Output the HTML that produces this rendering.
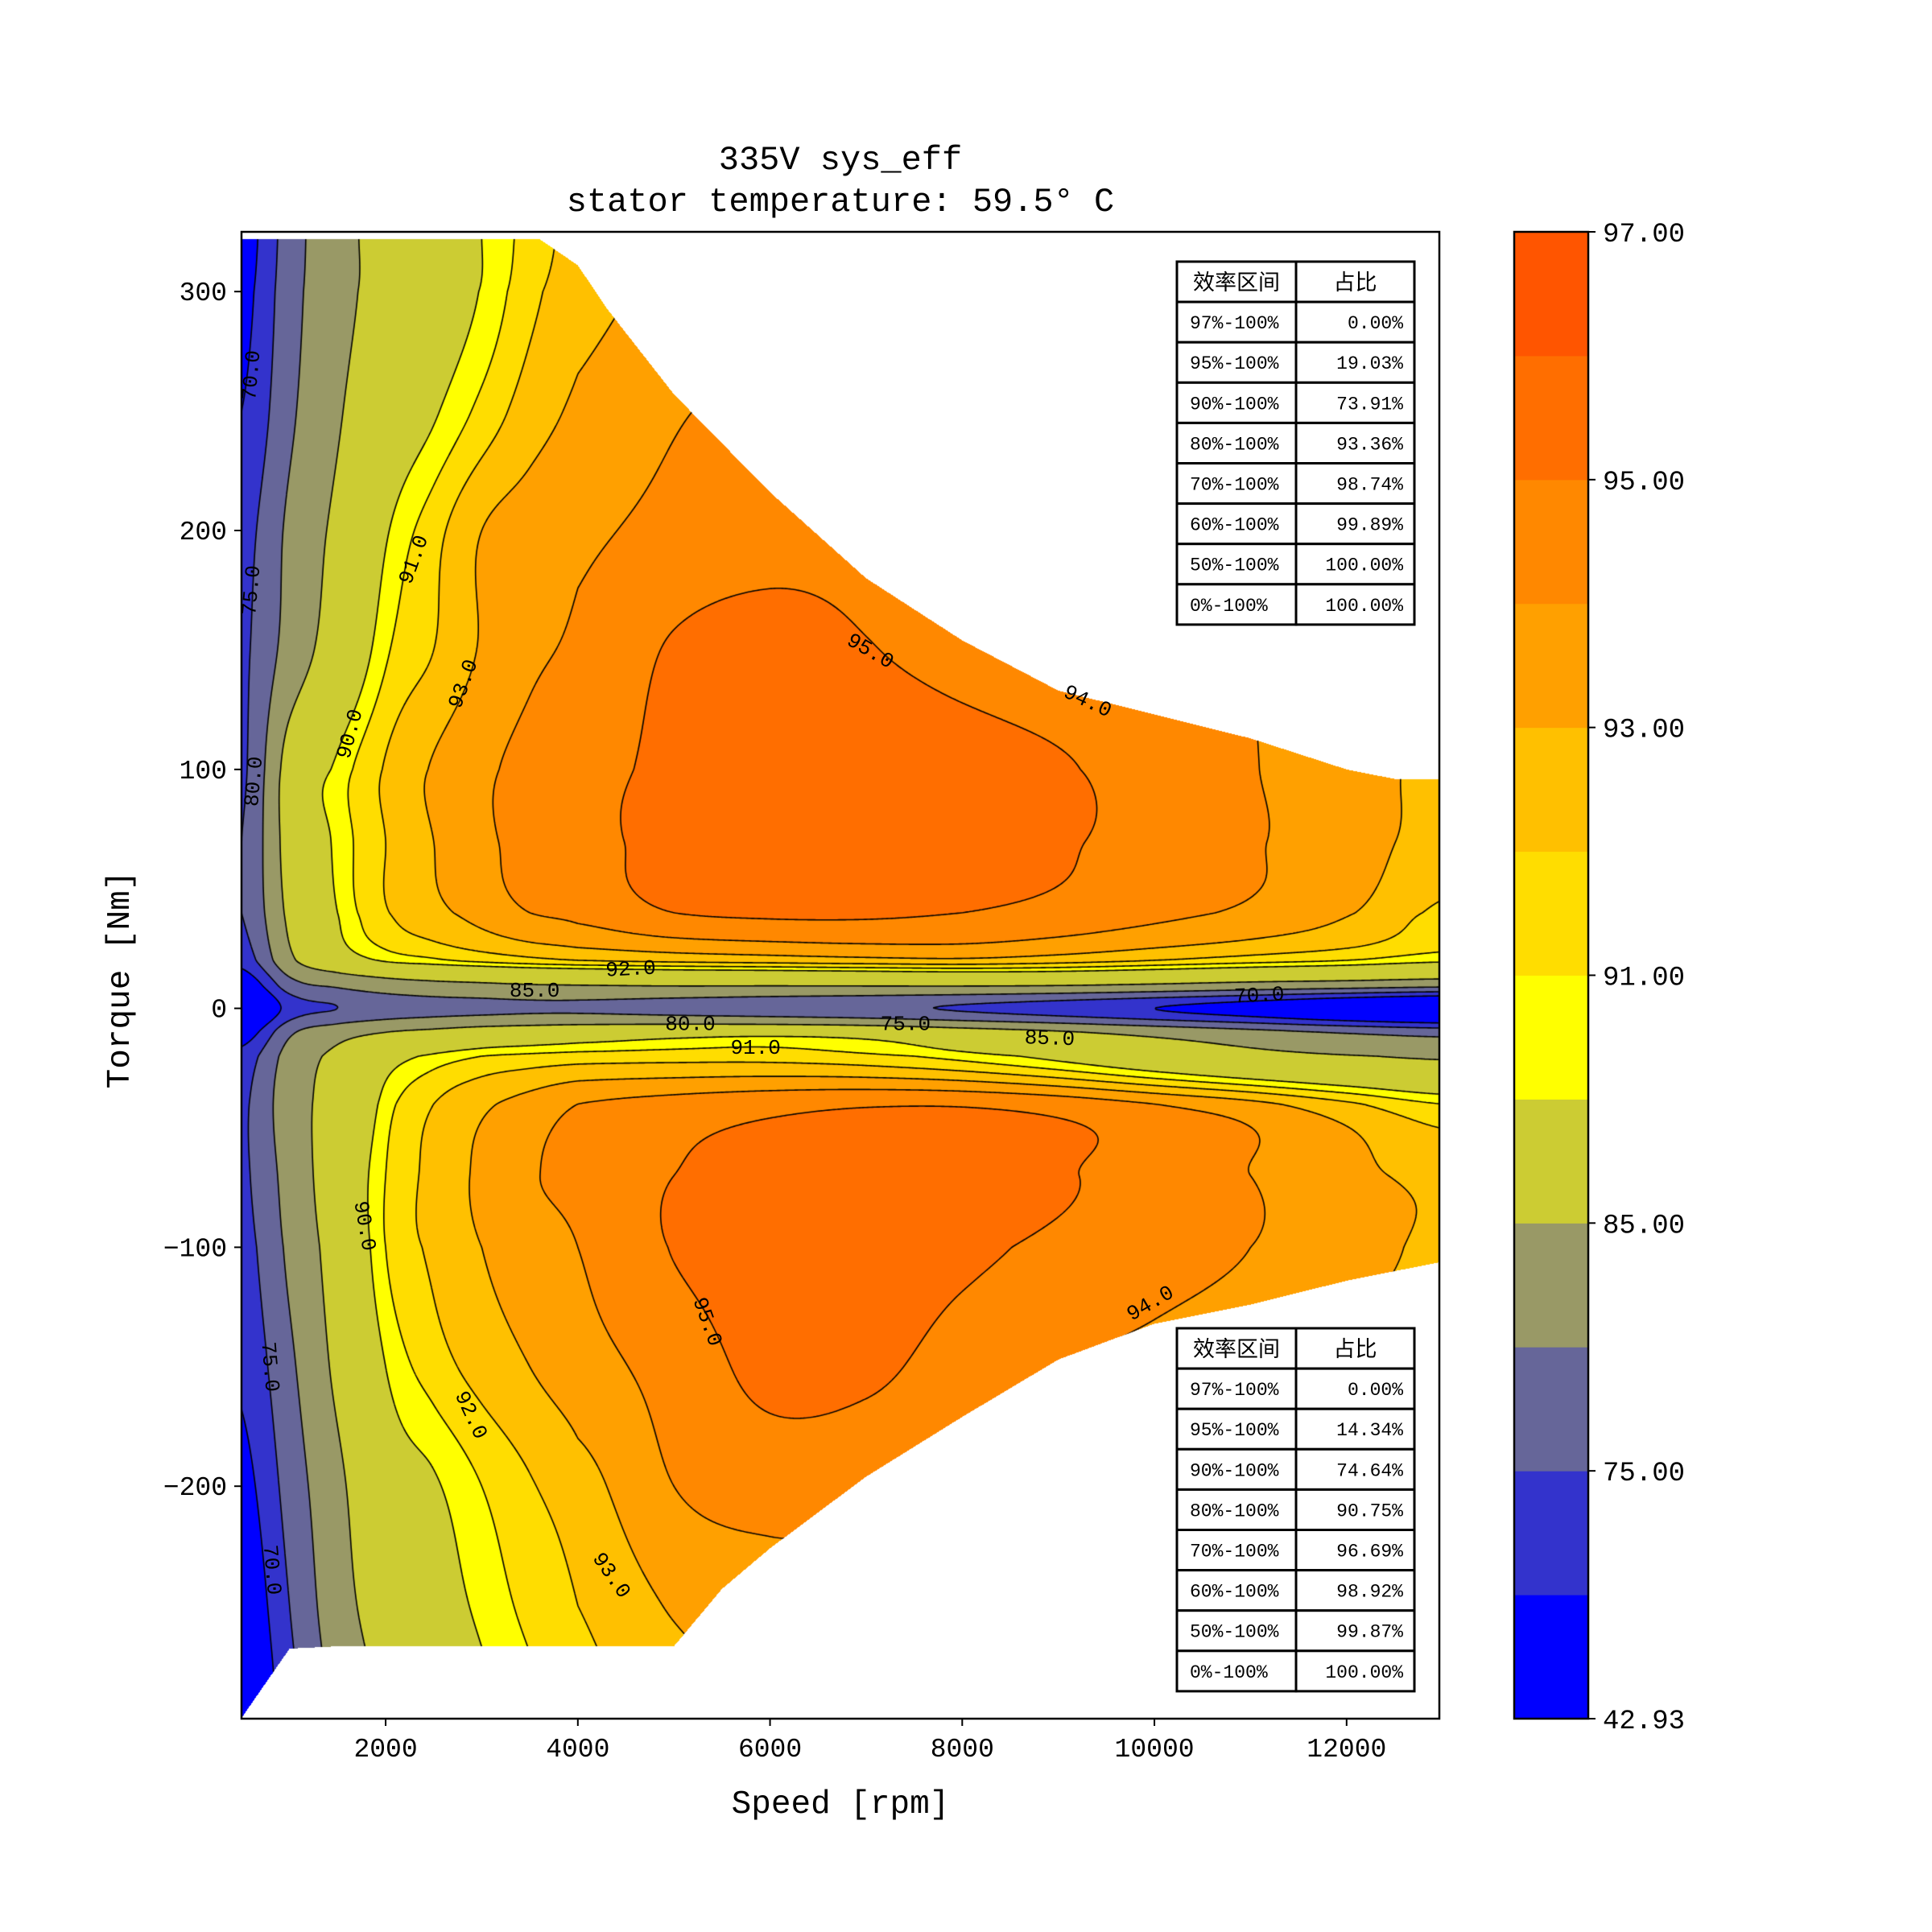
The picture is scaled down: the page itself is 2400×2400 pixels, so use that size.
<!DOCTYPE html>
<html><head><meta charset="utf-8">
<style>
html,body{margin:0;padding:0;background:#fff;}
#root{position:relative;width:2400px;height:2400px;background:#fff;overflow:hidden;}
svg text{font-family:"Liberation Mono","Noto Sans CJK SC",monospace;}
</style></head>
<body>
<div id="root">
<canvas id="plot" width="1488" height="1847" style="position:absolute;left:300px;top:288px;"></canvas>
<svg id="svg" width="2400" height="2400" style="position:absolute;left:0;top:0;" xmlns="http://www.w3.org/2000/svg">
<text x="1044" y="210" font-size="42" text-anchor="middle">335V sys_eff</text>
<text x="1044" y="262" font-size="42" text-anchor="middle">stator temperature: 59.5° C</text>
<text x="1044" y="2252" font-size="41" text-anchor="middle">Speed [rpm]</text>
<text transform="translate(160,1217) rotate(-90)" font-size="41" text-anchor="middle">Torque [Nm]</text>
<g id="ticks"></g>
<g id="clabels"></g>
<rect x="300" y="288" width="1488" height="1847" fill="none" stroke="#000" stroke-width="2.5"/>
<g id="cbar"></g>
<g id="tables"></g>
</svg>
</div>
<script>
// ---- data ----
const speeds=[500,1000,1500,2000,2500,3000,3500,4000,5000,6000,7000,8000,9000,10000,11000,12000,13000];
const torques=[325,300,250,200,150,100,70,40,20,10,0,-10,-20,-40,-70,-100,-150,-200,-250,-300];
const eff=[
[67,77.5,83.5,86.3,88.3,90,91.4,92.4,93,93.5,93.5,93.5,93.5,93.5,93.5,93,92.5],
[68,78,83.5,86.5,88.5,90.1,91.7,92.6,93.3,93.8,94,94,94,94,93.8,93.3,92.7],
[70,79,84.5,88,89.8,91.3,92.5,93.2,93.9,94.3,94.5,94.5,94.4,94.2,94,93.5,92.8],
[73,81,86,89.8,91.6,93,93.5,93.8,94.3,94.6,94.7,94.7,94.6,94.4,94,93.5,92.8],
[74,82,87.3,90.8,92,93.1,93.8,94.2,95.1,95.4,95.05,94.7,94.4,94.2,94,93.6,92.9],
[74,87,90.3,92.1,93.1,93.8,94.3,94.7,95.2,95.5,95.6,95.4,95.1,94.6,94.05,93.5,92.7],
[75,87,90.3,92,93,93.8,94.3,94.7,95.3,95.5,95.6,95.4,95.1,94.7,94.1,93.5,92.6],
[75,86,90,91.9,92.7,93.4,94,94.3,95,95.2,95.2,95,94.7,94.3,93.8,93.1,91.8],
[72,84,88.5,90.2,90.8,91.3,91.7,92,92.3,92.5,92.7,92.8,92.5,92,91.5,91,90.3],
[65,78,81,83,84,84.5,85,85.2,85.5,85.5,85.6,85.7,85.5,84.8,83.8,83,82],
[58,72,75,77,78,78.5,79,79,78,77,76,74.5,72.5,70,67,63,60],
[66,79,83,85,86,87,87.5,88,88.7,89,88.5,87,85.5,83.5,81.5,79.5,78],
[72,82,86,89,90.3,91,91.3,91.5,91.6,91.6,91.3,90.6,89.5,88,86.5,85.3,84.5],
[74,83,86.5,90.5,92,92.8,93.4,94,94.4,94.7,94.9,94.9,94.6,94,93.3,92.2,91],
[74,82,87.5,91,92.3,93.2,93.9,94.3,95,95.4,95.6,95.5,95.1,94.6,94,93.3,92.7],
[73,81,87,91,92.2,93,93.5,94,95.05,95.5,95.5,95.2,94.8,94.4,94,93.4,92.8],
[71,79,86,90,91.5,92.4,93,93.6,94.4,95.3,95.2,94.6,94.05,93.7,93.3,92.8,92.3],
[68,77,84,88.5,89.8,91,91.9,92.6,94,94.4,94.3,94,93.5,93,92.6,92.2,91.8],
[65,75,83,87,89,90.3,91.3,92,93.1,93.5,93.5,93.3,93,92.6,92.2,91.8,91.5],
[62,73,81,85.5,88,89.5,90.6,91.5,92.5,93,93,92.8,92.5,92.2,91.8,91.5,91]
];
const upperSpeed=[500,3600,4000,4300,5000,6000,7000,8000,9000,10000,11000,12000,12500,13000];
const upperTorque=[322,322,311,293,257,216,180,154,133,123,113,100,96,96];
const lowerSpeed=[500,1000,1500,5000,5500,6000,7000,8000,9000,10000,11000,12000,13000];
const lowerTorque=[-297,-268,-267,-267,-243,-226,-196,-171,-147,-132,-124,-114,-106];
const levels=[42.93,70,75,80,85,90,91,92,93,94,95,96,97];
const bandColors=["#0000ff","#3333cc","#666699","#999966","#cccc33","#ffff00","#ffdd00","#ffc000","#ffa000","#ff8800","#ff6e00","#ff5500"];
const lineLevels=[70,75,80,85,90,91,92,93,94,95,96];
const xTicks=[2000,4000,6000,8000,10000,12000];
const yTicks=[300,200,100,0,-100,-200];
const cbTicks=["42.93","75.00","85.00","91.00","93.00","95.00","97.00"];
const labelText=["70.0","75.0","80.0","90.0","91.0","93.0","95.0","94.0","92.0","85.0","80.0","75.0","70.0","91.0","85.0","90.0","95.0","94.0","75.0","92.0","93.0","70.0"];
const labelSpeed=[590,590,615,1615,2280,2795,7050,9310,4550,3550,5170,7410,11090,5850,8910,1795,5360,9950,810,2900,4360,830];
const labelTorque=[265,175,95,115,188,136,150,129,17,8,-6,-6,6,-16,-12,-91,-131,-123,-150,-170,-237,-235];
const labelAngle=[-85,-85,-85,-75,-70,-70,30,25,-3,0,0,0,-3,0,2,80,70,-30,85,65,55,85];
const tableRanges=["97%-100%","95%-100%","90%-100%","80%-100%","70%-100%","60%-100%","50%-100%","0%-100%"];
const tableTop=["0.00%","19.03%","73.91%","93.36%","98.74%","99.89%","100.00%","100.00%"];
const tableBottom=["0.00%","14.34%","74.64%","90.75%","96.69%","98.92%","99.87%","100.00%"];

// ---- axes ----
const PX=300,PY=288,PW=1488,PH=1847;
const xMin=500,xMax=12965,yMax=325,yMin=-297.3;
function sx(v){return PX+(v-xMin)/(xMax-xMin)*PW;}
function sy(v){return PY+(yMax-v)/(yMax-yMin)*PH;}
function lerpArr(xs,ys,x){
  if(x<=xs[0])return ys[0];
  for(let i=0;i<xs.length-1;i++){if(x<=xs[i+1]){const t=(x-xs[i])/(xs[i+1]-xs[i]);return ys[i]+t*(ys[i+1]-ys[i]);}}
  return ys[ys.length-1];
}
function fracIndex(arr,v,desc){
  const n=arr.length;
  for(let i=0;i<n-1;i++){
    const a=arr[i],b=arr[i+1];
    const inside=desc?(v<=a&&v>=b):(v>=a&&v<=b);
    if(inside)return i+(v-a)/(b-a);
  }
  if(desc)return v>arr[0]?0:n-1;
  return v<arr[0]?0:n-1;
}
function cr(p0,p1,p2,p3,t){
  return 0.5*((2*p1)+(-p0+p2)*t+(2*p0-5*p1+4*p2-p3)*t*t+(-p0+3*p1-3*p2+p3)*t*t*t);
}
function effAt(s,t){
  const fi=fracIndex(speeds,s,false),fj=fracIndex(torques,t,true);
  const nI=speeds.length,nJ=torques.length;
  let i=Math.min(Math.floor(fi),nI-2),j=Math.min(Math.floor(fj),nJ-2);
  const u=fi-i,v=fj-j;
  const cl=(k,n)=>Math.max(0,Math.min(n-1,k));
  const rows=[];
  for(let dj=-1;dj<=2;dj++){
    const r=eff[cl(j+dj,nJ)];
    rows.push(cr(r[cl(i-1,nI)],r[i],r[cl(i+1,nI)],r[cl(i+2,nI)],u));
  }
  return cr(rows[0],rows[1],rows[2],rows[3],v);
}
function band(v){for(let k=levels.length-2;k>=0;k--){if(v>=levels[k])return k;}return 0;}
function hex(c){return [parseInt(c.substr(1,2),16),parseInt(c.substr(3,2),16),parseInt(c.substr(5,2),16)];}
const rgb=bandColors.map(hex);
const cv=document.getElementById('plot');const ctx=cv.getContext('2d');
// value grid (step 2px) used for both fill and lines
const st=2,nx=Math.ceil(PW/st)+1,ny=Math.ceil(PH/st)+1;
const G=[];
for(let y=0;y<ny;y++){const row=new Float32Array(nx);const t=yMax-(y*st)/PH*(yMax-yMin);for(let x=0;x<nx;x++){row[x]=effAt(xMin+(x*st)/PW*(xMax-xMin),t);}G.push(row);}
function gval(px,py){
  const gx=px/st,gy=py/st;const x0=Math.min(Math.floor(gx),nx-2),y0=Math.min(Math.floor(gy),ny-2);
  const u=gx-x0,v=gy-y0;
  return G[y0][x0]*(1-u)*(1-v)+G[y0][x0+1]*u*(1-v)+G[y0+1][x0]*(1-u)*v+G[y0+1][x0+1]*u*v;
}
const img=ctx.createImageData(PW,PH);
for(let py=0;py<PH;py++){
  const t=yMax-(py+0.5)/PH*(yMax-yMin);
  for(let px=0;px<PW;px++){
    const s=xMin+(px+0.5)/PW*(xMax-xMin);
    const idx=(py*PW+px)*4;
    const up=lerpArr(upperSpeed,upperTorque,s),lo=lerpArr(lowerSpeed,lowerTorque,s);
    if(t>up||t<lo){img.data[idx]=255;img.data[idx+1]=255;img.data[idx+2]=255;img.data[idx+3]=255;continue;}
    const c=rgb[band(gval(px+0.5,py+0.5))];
    img.data[idx]=c[0];img.data[idx+1]=c[1];img.data[idx+2]=c[2];img.data[idx+3]=255;
  }
}
ctx.putImageData(img,0,0);
ctx.save();ctx.beginPath();
for(let k=0;k<upperSpeed.length;k++){const X=sx(upperSpeed[k])-PX,Y=sy(upperTorque[k])-PY;k?ctx.lineTo(X,Y):ctx.moveTo(X,Y);}
for(let k=lowerSpeed.length-1;k>=0;k--){ctx.lineTo(sx(lowerSpeed[k])-PX,sy(lowerTorque[k])-PY);}
ctx.closePath();ctx.clip();
ctx.strokeStyle="#000";ctx.lineWidth=1.6;
ctx.beginPath();
lineLevels.forEach(L=>{
  for(let y=0;y<ny-1;y++)for(let x=0;x<nx-1;x++){
    const a=G[y][x],b=G[y][x+1],c=G[y+1][x+1],d=G[y+1][x];
    const pts=[];
    const X0=x*st,Y0=y*st;
    if((a<L)!==(b<L))pts.push([X0+st*(L-a)/(b-a),Y0]);
    if((b<L)!==(c<L))pts.push([X0+st,Y0+st*(L-b)/(c-b)]);
    if((d<L)!==(c<L))pts.push([X0+st*(L-d)/(c-d),Y0+st]);
    if((a<L)!==(d<L))pts.push([X0,Y0+st*(L-a)/(d-a)]);
    if(pts.length>=2){ctx.moveTo(pts[0][0],pts[0][1]);ctx.lineTo(pts[1][0],pts[1][1]);}
    if(pts.length===4){ctx.moveTo(pts[2][0],pts[2][1]);ctx.lineTo(pts[3][0],pts[3][1]);}
  }
});
ctx.stroke();ctx.restore();

const NS="http://www.w3.org/2000/svg";
function mk(tag,attrs,parent){const e=document.createElementNS(NS,tag);for(const k in attrs)e.setAttribute(k,attrs[k]);parent.appendChild(e);return e;}
const tg=document.getElementById('ticks');
xTicks.forEach(v=>{
  const l=mk('line',{x1:sx(v),x2:sx(v),y1:PY+PH,y2:PY+PH+9,stroke:'#000','stroke-width':2},tg);
  
  
  const t=mk('text',{x:sx(v),y:PY+PH+47,'font-size':33,'text-anchor':'middle'},tg);t.textContent=v;
  
  
});
yTicks.forEach(v=>{
  const l=mk('line',{x1:PX-9,x2:PX,y1:sy(v),y2:sy(v),stroke:'#000','stroke-width':2},tg);
  
  
  const t=mk('text',{x:PX-18,y:sy(v)+11,'font-size':33,'text-anchor':'end'},tg);t.textContent=(v<0?'\u2212'+(-v):v);
  
  
});
const cl=document.getElementById('clabels');
labelText.forEach((s,i)=>{
  const x=sx(labelSpeed[i]),y=sy(labelTorque[i]);
  const t=mk('text',{x:0,y:9,'font-size':26,'text-anchor':'middle',transform:`translate(${x},${y}) rotate(${labelAngle[i]})`},cl);
  t.textContent=s;
  
  
});
const cb=document.getElementById('cbar');
const CX=1881,CW=92,bh=PH/bandColors.length;
bandColors.forEach((c,k)=>{
  const r=mk('rect',{x:CX,y:PY+PH-(k+1)*bh,width:CW,height:bh+0.5,fill:c},cb);
  
  
});
mk('rect',{x:CX,y:PY,width:CW,height:PH,fill:'none',stroke:'#000','stroke-width':2.5},cb);
cbTicks.forEach((s,k)=>{
  const y=PY+PH-k*2*bh;
  mk('line',{x1:CX+CW,x2:CX+CW+9,y1:y,y2:y,stroke:'#000','stroke-width':2},cb);
  const t=mk('text',{x:CX+CW+18,y:y+12,'font-size':34},cb);t.textContent=s;
  
  
});
const tb=document.getElementById('tables');
function table(top,vals,name){
  const g=mk('g',{},tb);
  
  
  const X0=1462,X1=1610,X2=1757,rh=50.1;
  const rows=[["效率区间","占比"]].concat(tableRanges.map((r,i)=>[r,vals[i]]));
  rows.forEach((r,i)=>{
    const y=top+i*rh;
    mk('rect',{x:X0,y:y,width:X1-X0,height:rh,fill:'#fff',stroke:'#000','stroke-width':3},g);
    mk('rect',{x:X1,y:y,width:X2-X1,height:rh,fill:'#fff',stroke:'#000','stroke-width':3},g);
    if(i===0){
      const a=mk('text',{x:(X0+X1)/2,y:y+35,'font-size':27,'text-anchor':'middle'},g);a.textContent=r[0];
      const b=mk('text',{x:(X1+X2)/2,y:y+35,'font-size':27,'text-anchor':'middle'},g);b.textContent=r[1];
    }else{
      const a=mk('text',{x:X0+16,y:y+33,'font-size':23},g);a.textContent=r[0];
      
      
      const b=mk('text',{x:X2-14,y:y+33,'font-size':23,'text-anchor':'end'},g);b.textContent=r[1];
      
      
    }
  });
}
table(325,tableTop,'ratio-table-upper');
table(1650,tableBottom,'ratio-table-lower');
</script>
</body></html>
